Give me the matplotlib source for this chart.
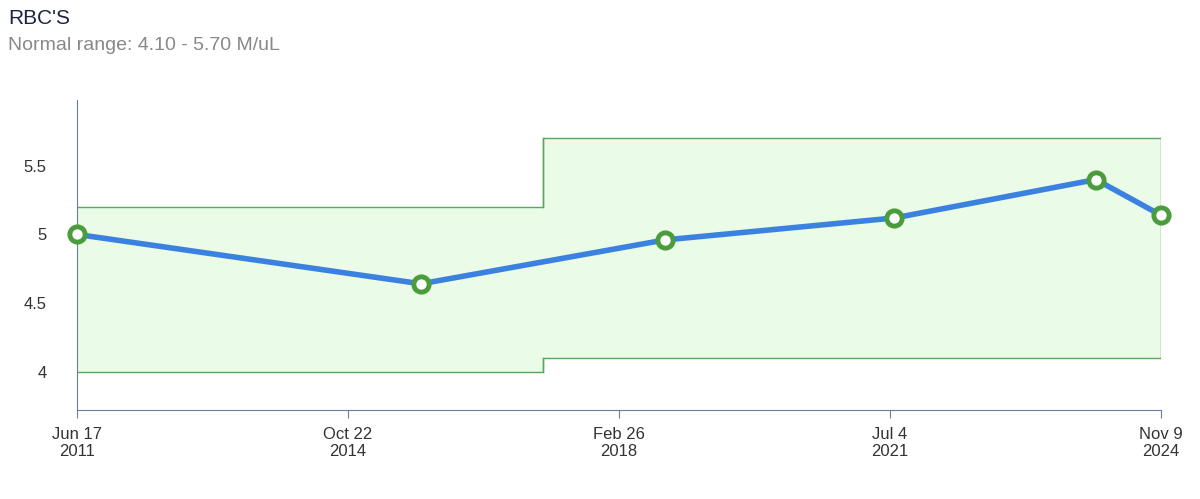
import numpy as np
import matplotlib.pyplot as plt
from datetime import datetime

plt.rcParams['font.family'] = ['Liberation Sans', 'DejaVu Sans']

dates = ["2011-06-17", "2015-09-17", "2018-09-23", "2021-07-24", "2024-01-20", "2024-11-09"]
values = [5.0, 4.64, 4.96, 5.12, 5.40, 5.14]

range_dates = ["2011-06-17", "2017-03-22", "2017-03-22", "2024-11-09"]
range_low = [4.0, 4.0, 4.1, 4.1]
range_high = [5.2, 5.2, 5.7, 5.7]

tick_dates = ["2011-06-17", "2014-10-22", "2018-02-26", "2021-07-04", "2024-11-09"]
tick_labels = ["Jun 17\n2011", "Oct 22\n2014", "Feb 26\n2018", "Jul 4\n2021", "Nov 9\n2024"]

to_dt = lambda l: [datetime.strptime(d, "%Y-%m-%d") for d in l]

fig = plt.figure(figsize=(12, 4.99), dpi=100)
ax = fig.add_axes([77/1200, 89/499, 1084/1200, 310/499])

rd = to_dt(range_dates)
ax.fill_between(rd, range_low, range_high, color="#eafbe8", lw=0)
ax.plot(rd, range_low, color="#5aa55a", lw=1)
ax.plot(rd, range_high, color="#5aa55a", lw=1)
ax.plot([rd[1], rd[1]], [4.0, 4.1], color="#5aa55a", lw=1)
ax.plot([rd[1], rd[1]], [5.2, 5.7], color="#5aa55a", lw=1)
ax.plot([rd[-1], rd[-1]], [4.1, 5.7], color="#5aa55a", lw=1)

ax.plot(to_dt(dates), values, color="#3b82e0", lw=4, zorder=3)
ax.plot(to_dt(dates), values, "o", ms=11, mfc="white", mec="#4a9c3c", mew=3.5,
        zorder=4, clip_on=False)

ax.set_xlim(to_dt(["2011-06-17", "2024-11-09"]))
ax.set_ylim(3.72, 5.98)
ax.set_yticks([4, 4.5, 5, 5.5])
ax.set_yticklabels(["4", "4.5", "5", "5.5"])
ax.set_xticks(to_dt(tick_dates))
ax.set_xticklabels(tick_labels)
ax.tick_params(labelsize=12, colors="#333333", length=0)
ax.tick_params(axis="y", pad=22)
ax.tick_params(axis="x", length=6, color="#6b7f99", pad=6)
for s in ["top", "right"]:
    ax.spines[s].set_visible(False)
for s in ["left", "bottom"]:
    ax.spines[s].set_color("#6b7f99")

fig.text(8/1200, 1 - 18/499, "RBC'S", fontsize=15, color="#1a2340", va="center")
fig.text(8/1200, 1 - 45/499, "Normal range: 4.10 - 5.70 M/uL", fontsize=14, color="#888888", va="center")

fig.savefig("out.png")
